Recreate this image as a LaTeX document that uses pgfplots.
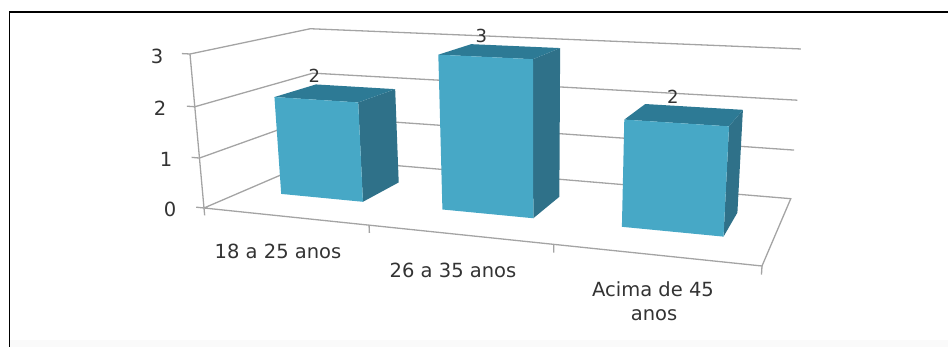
\documentclass[border=0pt]{standalone}
\usepackage{pgfplots}
\pgfplotsset{compat=1.18}
\usepackage{fontspec}
\setmainfont{DejaVu Sans}

% Perspective of the chart box: c = category position (0..3), d = depth (0..1), v = value (0..3)
\pgfmathdeclarefunction{projx}{3}{\pgfmathparse{(204+436.08*(#1)/3+174.42*(#2)-21.6*(#3)/3)/(1-0.16*(#1)/3+0.19*(#2)-0.04*(#3)/3)}}
\pgfmathdeclarefunction{projy}{3}{\pgfmathparse{(208+15.44*(#1)/3-18.79*(#2)-156.16*(#3)/3)/(1-0.16*(#1)/3+0.19*(#2)-0.04*(#3)/3)}}

\pgfplotsset{
  table/box3d/.style={row sep=\\,
    x expr={projx(\thisrow{c},\thisrow{d},\thisrow{v})},
    y expr={projy(\thisrow{c},\thisrow{d},\thisrow{v})}},
  wire/.style={draw=gridgray, line width=1.3pt},
}
\definecolor{gridgray}{HTML}{A4A4A4}
\definecolor{barfront}{HTML}{47A8C6}
\definecolor{bartop}{HTML}{2D7A95}
\definecolor{barside}{HTML}{2F7189}
\definecolor{labelgray}{HTML}{333333}

% One bar: left edge, right edge, value
\newcommand{\barfaces}[3]{%
  \addplot[fill=barside, draw=none] table[box3d] {c d v\\ #2 0.32 0\\ #2 0.69 0\\ #2 0.69 #3\\ #2 0.32 #3\\} -- cycle;
  \addplot[fill=bartop, draw=none] table[box3d] {c d v\\ #1 0.32 #3\\ #2 0.32 #3\\ #2 0.69 #3\\ #1 0.69 #3\\} -- cycle;
  \addplot[fill=barfront, draw=none] table[box3d] {c d v\\ #1 0.32 0\\ #2 0.32 0\\ #2 0.32 #3\\ #1 0.32 #3\\} -- cycle;
}

\begin{document}
\begin{tikzpicture}
\begin{axis}[
  scale only axis, width=948pt, height=347pt,
  xmin=0, xmax=948, ymin=0, ymax=347, y dir=reverse,
  hide axis, clip=false,
]
\path[use as bounding box] (axis cs:0,0) rectangle (axis cs:948,347);

% frame of the figure
\fill[black!2] (axis cs:10,340) rectangle (axis cs:948,347);
\draw[black, line width=1.5pt] (axis cs:9.5,347) -- (axis cs:9.5,12) -- (axis cs:948,12);

% walls and floor
\addplot[wire] table[box3d] {c d v\\ 0 0 3\\ 0 1 3\\ 3 1 3\\};
\addplot[wire] table[box3d] {c d v\\ 0 0 2\\ 0 1 2\\ 3 1 2\\};
\addplot[wire] table[box3d] {c d v\\ 0 0 1\\ 0 1 1\\ 3 1 1\\};
\addplot[wire] table[box3d] {c d v\\ 0 0 0\\ 0 1 0\\ 3 1 0\\ 3 0 0\\ 0 0 0\\};
\addplot[wire] table[box3d] {c d v\\ 0 0 0\\ 0 0 3\\};

% tick marks
\addplot[wire] table[box3d] {c d v\\ -0.05 0 0\\ 0 0 0\\};
\addplot[wire] table[box3d] {c d v\\ -0.05 0 1\\ 0 0 1\\};
\addplot[wire] table[box3d] {c d v\\ -0.05 0 2\\ 0 0 2\\};
\addplot[wire] table[box3d] {c d v\\ -0.05 0 3\\ 0 0 3\\};
\addplot[wire] table[box3d] {c d v\\ 0 0 0\\ 0 0 -0.15\\};
\addplot[wire] table[box3d] {c d v\\ 1 0 0\\ 1 0 -0.15\\};
\addplot[wire] table[box3d] {c d v\\ 2 0 0\\ 2 0 -0.15\\};
\addplot[wire] table[box3d] {c d v\\ 3 0 0\\ 3 0 -0.15\\};

% bars
\barfaces{0.24}{0.76}{2}
\barfaces{1.24}{1.76}{3}
\barfaces{2.24}{2.76}{2}

% value labels
\addplot[only marks, mark=none, point meta=explicit symbolic,
  nodes near coords,
  nodes near coords align={center},
  every node near coord/.append style={font=\fontsize{18}{18}\selectfont, text=labelgray, yshift=9pt, inner sep=0pt}]
  table[box3d, meta=v] {c d v\\ 0.23 0.69 2\\ 1.30 0.69 3\\ 2.39 0.69 2\\};

% axis texts
\begin{scope}[every node/.style={font=\fontsize{19.5}{22}\selectfont, text=labelgray, inner sep=0pt, align=center}]
\node at (axis cs:157,56) {3};
\node at (axis cs:160,108) {2};
\node at (axis cs:166,159) {1};
\node at (axis cs:170,209) {0};
\node at (axis cs:278,251) {18 a 25 anos};
\node at (axis cs:453,270) {26 a 35 anos};
\node at (axis cs:653,289) {Acima de 45};
\node at (axis cs:654,315) {anos};
\end{scope}
\end{axis}
\end{tikzpicture}
\end{document}
